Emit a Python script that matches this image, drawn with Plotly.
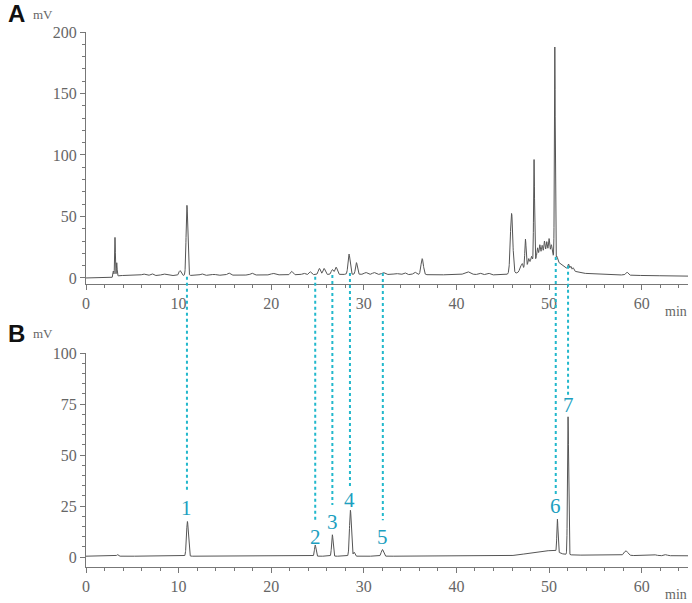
import numpy as np
import plotly.graph_objects as go

# ---------------- data ----------------
# Panel A: baseline knots (min, mV)
a_base_t = [0, 2.7, 3.6, 10, 20, 30, 40, 45, 46.5, 47.2, 48.0, 49.0, 50.0, 50.5, 51.0, 51.6, 52.5, 53.5, 55, 60, 65]
a_base_v = [0, 0, 2, 2, 2.5, 3, 2.5, 2.5, 4, 7, 12, 18, 20, 18, 13, 9, 6, 4, 3, 2, 1.5]
# Panel A peaks: retention time, height above baseline, width (sigma)
a_peak_t = [2.95, 3.13, 3.32, 6.2, 7.1, 8.4, 10.15, 10.9, 12.5, 13.8, 15.4, 17.9, 20.2, 22.2, 23.5,
            24.2, 25.2, 25.7, 26.6, 27.0, 28.4, 29.2, 30.2, 31.1, 32.1, 33.5, 34.4, 35.5, 36.3,
            41.2, 42.5, 43.4, 45.95, 46.9, 47.1, 47.45, 47.8, 48.1, 48.38, 48.75, 49.0, 49.25,
            49.5, 49.75, 50.0, 50.25, 50.62, 50.85, 52.1, 52.35, 52.6, 58.4]
a_peak_h = [5, 32, 11, 1.2, 1.5, 1.2, 4, 57, 1.2, 0.8, 1.8, 1.5, 1.2, 2.8, 1.2,
            2.3, 5, 5, 4, 6, 16.5, 9.5, 1.5, 1.5, 1.5, 0.8, 1.5, 2, 13,
            2.5, 1.5, 1.5, 49, 4, 5, 23, 5, 5, 82, 8, 9, 8,
            11, 10, 12, 8, 171, 3, 4, 3, 2.5, 2.5]
a_peak_w = [0.05, 0.04, 0.04, 0.2, 0.15, 0.25, 0.12, 0.09, 0.15, 0.2, 0.15, 0.15, 0.2, 0.12, 0.15,
            0.12, 0.12, 0.12, 0.12, 0.12, 0.11, 0.1, 0.15, 0.15, 0.15, 0.2, 0.15, 0.15, 0.13,
            0.35, 0.2, 0.2, 0.13, 0.08, 0.08, 0.07, 0.08, 0.08, 0.05, 0.07, 0.07, 0.07,
            0.07, 0.07, 0.07, 0.07, 0.045, 0.06, 0.07, 0.07, 0.07, 0.12]

# Panel B: baseline knots and peaks
b_base_t = [0, 45, 46.5, 48, 49.5, 50.5, 51.5, 52.5, 55, 65]
b_base_v = [0.4, 0.4, 0.9, 2.0, 3.0, 3.2, 1.5, 1.0, 0.8, 0.6]
b_peak_t = [3.4, 10.95, 24.75, 26.6, 28.55, 28.95, 32.0, 50.9, 52.05, 58.3, 61.5, 62.6]
b_peak_h = [0.8, 17, 5.5, 10.5, 22.5, 2, 3.3, 16, 67.5, 2.3, 0.4, 0.5]
b_peak_w = [0.08, 0.1, 0.08, 0.08, 0.1, 0.08, 0.12, 0.06, 0.06, 0.2, 0.15, 0.15]

# Numbered compounds (labels in panel B, connectors to panel A)
cmp_labels = ["1", "2", "3", "4", "5", "6", "7"]
cmp_t = [10.9, 24.75, 26.6, 28.5, 32.05, 50.72, 52.05]
cmp_label_y = [24, 9.8, 17, 28, 9.8, 25, 74.5]      # label position in panel B (mV)
cmp_top_y = [1, 1, 2.5, 4, 4, 17, 10]               # connector start in panel A (mV)
cmp_line_gap = [8.8, 8.2, 8.5, 6.3, 8.2, 5, 5]      # gap between connector end and label (mV)

x_range = [0, 65]
a_range = [-4.9, 200]
b_range = [-4.9, 100]
a_domain = [0.529, 1.0]
b_domain = [0.0, 0.4]


def signal(tgrid, bt, bv, pt, ph, pw):
    y = np.interp(tgrid, bt, bv)
    for t0, h, w in zip(pt, ph, pw):
        y = y + h * np.exp(-0.5 * ((tgrid - t0) / w) ** 2)
    return y


t = np.arange(0, 65.0001, 0.01)
ya = signal(t, a_base_t, a_base_v, a_peak_t, a_peak_h, a_peak_w)
yb = signal(t, b_base_t, b_base_v, b_peak_t, b_peak_h, b_peak_w)

fig = go.Figure()
fig.add_trace(go.Scatter(x=t, y=ya, mode="lines", line=dict(color="#555555", width=1),
                         xaxis="x", yaxis="y", hoverinfo="skip", showlegend=False))
fig.add_trace(go.Scatter(x=t, y=yb, mode="lines", line=dict(color="#555555", width=1),
                         xaxis="x2", yaxis="y2", hoverinfo="skip", showlegend=False))


def to_paper(v, rng, dom):
    return dom[0] + (v - rng[0]) / (rng[1] - rng[0]) * (dom[1] - dom[0])


serif = "Liberation Serif, DejaVu Serif, Times New Roman, serif"
cyan = "#22b8cc"
label_col = "#1d9fc0"
for lab, tc, ly, ty, gap in zip(cmp_labels, cmp_t, cmp_label_y, cmp_top_y, cmp_line_gap):
    y0 = to_paper(ty, a_range, a_domain)
    y1 = to_paper(ly + gap, b_range, b_domain)
    fig.add_shape(type="line", xref="x2", yref="paper", x0=tc, x1=tc, y0=y0, y1=y1,
                  line=dict(color=cyan, width=2, dash="dot"), layer="above")
    fig.add_annotation(x=tc, y=ly, xref="x2", yref="y2", text=lab, showarrow=False,
                       font=dict(family=serif, size=21, color=label_col))

axis_col = "#777777"
tick_font = dict(family=serif, size=16, color="#666666")
common_x = dict(range=x_range, showline=True, linecolor=axis_col, linewidth=1, ticks="outside",
                ticklen=5, tickcolor=axis_col, dtick=10, tick0=0, showgrid=False, zeroline=False,
                tickfont=tick_font,
                minor=dict(ticks="outside", dtick=2, tick0=0, ticklen=3, tickcolor=axis_col, showgrid=False))
common_y = dict(showline=True, linecolor=axis_col, linewidth=1, ticks="outside", ticklen=5,
                tickcolor=axis_col, showgrid=False, zeroline=False, tickfont=tick_font)

fig.update_layout(
    width=692, height=603,
    margin=dict(l=86, r=4, t=32, b=36),
    paper_bgcolor="white", plot_bgcolor="white",
    showlegend=False,
    xaxis=dict(domain=[0, 1], anchor="y", **common_x),
    yaxis=dict(domain=a_domain, anchor="x", range=a_range, tickvals=[0, 50, 100, 150, 200],
               minor=dict(ticks="outside", dtick=10, tick0=0, ticklen=3, tickcolor=axis_col, showgrid=False),
               **common_y),
    xaxis2=dict(domain=[0, 1], anchor="y2", **common_x),
    yaxis2=dict(domain=b_domain, anchor="x2", range=b_range, tickvals=[0, 25, 50, 75, 100],
                minor=dict(ticks="outside", dtick=5, tick0=0, ticklen=3, tickcolor=axis_col, showgrid=False),
                **common_y),
)

unit_font = dict(family=serif, size=13, color="#666666")
min_font = dict(family=serif, size=14, color="#666666")
panel_font = dict(family="Liberation Sans, Arial, sans-serif", size=24, color="#111111")
for txt, x, y, f in [("<b>A</b>", -0.115, 1.034, panel_font), ("mV", -0.072, 1.032, unit_font),
                     ("<b>B</b>", -0.115, 0.437, panel_font), ("mV", -0.072, 0.437, unit_font),
                     ("min", 0.98, 0.477, min_font), ("min", 0.98, -0.052, min_font)]:
    fig.add_annotation(x=x, y=y, xref="paper", yref="paper", text=txt, showarrow=False,
                       xanchor="center", yanchor="middle", font=f)

# remove the default page margin so the 692x603 figure fills the window exactly
fig.write_html("out.html",
               config={"displayModeBar": False},
               post_script="document.body.style.margin='0';document.body.style.overflow='hidden';")
